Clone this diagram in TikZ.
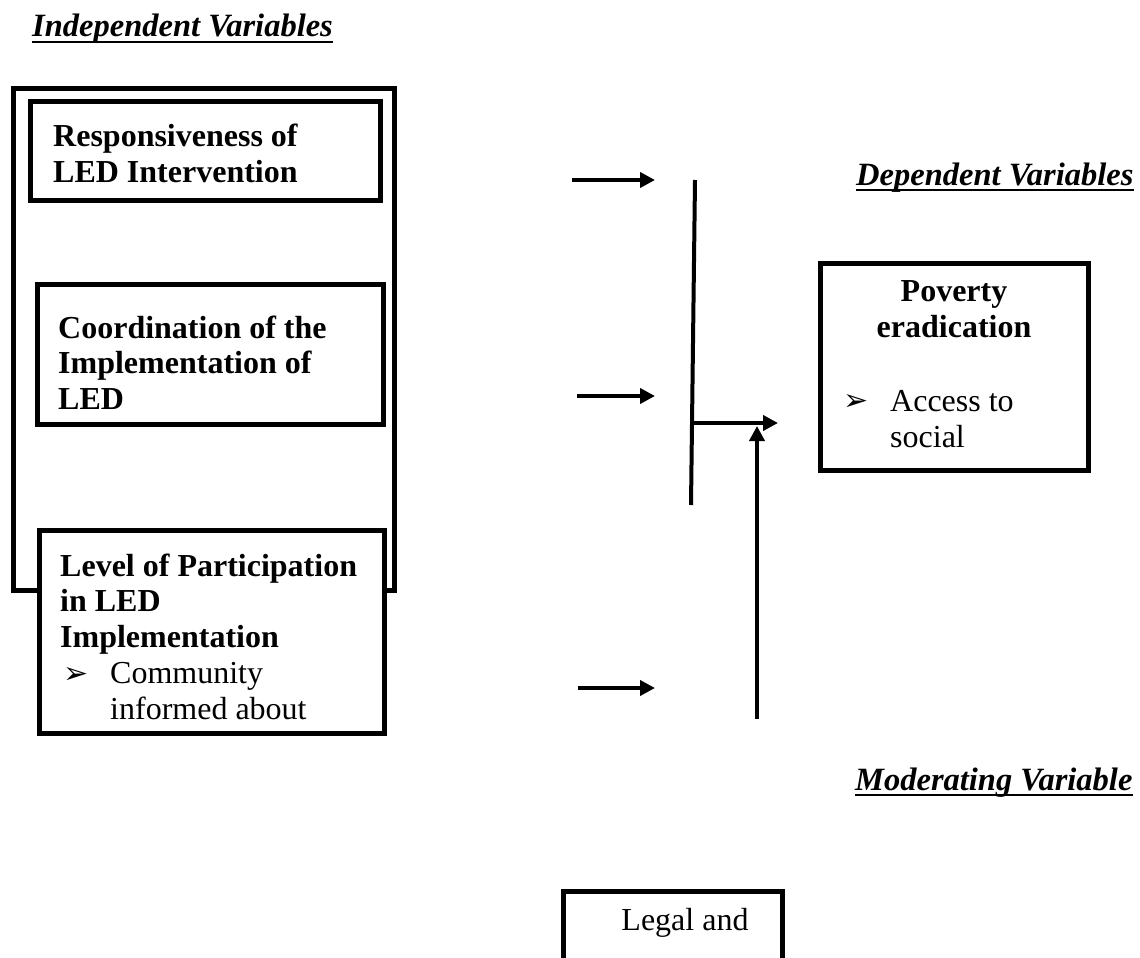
\documentclass[tikz,border=0pt]{standalone}
\usepackage{fontspec}
\setmainfont{Liberation Serif}
\newfontfamily\dingfont{DejaVu Sans}
\usetikzlibrary{arrows.meta,positioning}
\newcommand{\pointer}{{\dingfont\fontsize{30}{30}\selectfont ➢}}

\begin{document}
\fontsize{32}{35.5}\selectfont
\begin{tikzpicture}[x=1pt,y=-1pt,>={Triangle[length=15pt,width=15pt]},
    frame/.style={draw,line width=5pt,anchor=north west,inner sep=0pt,outer sep=0pt},
    box text/.style={anchor=base west,align=left,inner sep=0pt,font=\bfseries},
    item text/.style={anchor=base west,align=left,inner sep=0pt},
    heading/.style={anchor=base west,inner sep=0pt,font=\fontsize{32.5}{35.5}\selectfont\bfseries\itshape},
    rule/.style={line width=2.5pt},
    link/.style={line width=4pt}]
  \path[use as bounding box,clip] (0,0) rectangle (1140,958);

  % independent variables (text nodes sit on the baseline of their last line)
  \node[heading] (indep) at (32,37) {Independent Variables};
  \node[frame,minimum width=381pt,minimum height=502pt] (outer) at (13,88) {};
  \node[frame,minimum width=350pt,minimum height=99pt] (resp) at (30,101) {};
  \node[box text] (resp text) at (53,182) {Responsiveness of\\LED Intervention};
  \node[frame,minimum width=346pt,minimum height=140pt] (coord) at (37,284) {};
  \node[box text] (coord text) at (58,409) {Coordination of the\\Implementation of\\LED};
  \node[frame,fill=white,minimum width=345pt,minimum height=203pt] (part) at (39,530) {};
  \node[box text] (part text) at (60,647) {Level of Participation\\in LED\\Implementation};
  \node[item text] (part mark) at (63,683) {\pointer};
  \node[item text] (part item) at (110,719) {Community\\informed about};

  % dependent variable
  \node[heading] (dep) at (856,185) {Dependent Variables};
  \node[frame,minimum width=268pt,minimum height=207pt] (pov) at (820,263) {};
  \node[box text,anchor=base,align=center] (pov text) at (954,337) {Poverty\\eradication};
  \node[item text] (pov mark) at (843,410) {\pointer};
  \node[item text] (pov item) at (890,447) {Access to\\social};

  % moderating variable
  \node[heading] (mod) at (855,790) {Moderating Variable};
  \node[frame,minimum width=219pt,minimum height=120pt] (legal) at (563,891) {};
  \node[item text,anchor=base] (legal text) at (685,930) {Legal and};

  \foreach \h in {indep,dep,mod}
    \draw[rule] ([yshift=-5pt]\h.base west) -- ([yshift=-5pt]\h.base east);

  % connectors
  \coordinate (resp out) at (572,180);
  \coordinate (resp in) at (655,180);
  \coordinate (coord out) at (577,396);
  \coordinate (coord in) at (655,396);
  \coordinate (part out) at (578,688);
  \coordinate (part in) at (655,688);
  \coordinate (bar top) at (695,180);
  \coordinate (bar bottom) at (691,505);
  \coordinate (join) at (694,423);
  \coordinate (pov in) at (778,423);
  \coordinate (mod out) at (757,719);
  \coordinate (mod in) at (757,426);

  \draw[link,->] (resp out) -- (resp in);
  \draw[link,->] (coord out) -- (coord in);
  \draw[link,->] (part out) -- (part in);
  \draw[link] (bar top) -- (bar bottom);
  \draw[link,->] (join) -- (pov in);
  \draw[link,->] (mod out) -- (mod in);
\end{tikzpicture}
\end{document}
